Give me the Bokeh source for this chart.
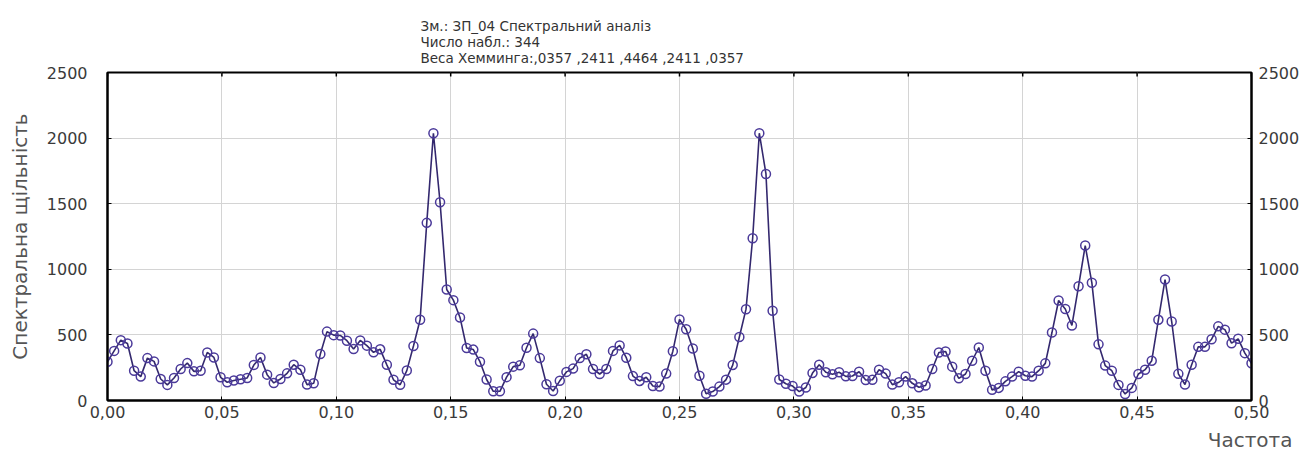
import math
from bokeh.plotting import figure
from bokeh.models import LinearAxis, FixedTicker, Title, Range1d, ColumnDataSource
from bokeh.embed import file_html
from bokeh.resources import INLINE

# ---- data -------------------------------------------------------------
n_obs = 344
spectral_density = [
    295, 378, 460, 434, 227, 182, 323, 298, 164, 119,
    172, 240, 285, 222, 227, 366, 328, 177, 139, 152,
    162, 172, 270, 328, 197, 134, 164, 207, 273, 235,
    121, 131, 354, 525, 498, 496, 456, 392, 458, 418,
    367, 390, 272, 158, 120, 228, 415, 615, 1354, 2037,
    1511, 846, 765, 633, 400, 388, 296, 160, 70, 70,
    178, 258, 268, 402, 510, 323, 124, 72, 150, 218,
    243, 323, 352, 240, 202, 240, 378, 420, 326, 186,
    149, 177, 110, 106, 205, 376, 618, 543, 396, 189,
    52, 68, 106, 159, 270, 484, 696, 1237, 2037, 1727,
    684, 160, 128, 110, 68, 99, 209, 272, 215, 200,
    215, 184, 187, 219, 156, 158, 234, 205, 121, 139,
    182, 131, 101, 114, 240, 366, 374, 258, 169, 202,
    303, 404, 227, 81, 96, 146, 182, 220, 189, 182,
    227, 283, 518, 762, 697, 572, 871, 1181, 897, 428,
    266, 227, 119, 50, 96, 202, 235, 303, 615, 922,
    602, 203, 122, 273, 409, 409, 467, 565, 540, 437,
    470, 361, 284,
]
frequency = [k / n_obs for k in range(len(spectral_density))]

x_ticks = [0.0, 0.05, 0.1, 0.15, 0.2, 0.25, 0.3, 0.35, 0.4, 0.45, 0.5]
x_tick_labels = ["0,00", "0,05", "0,10", "0,15", "0,20", "0,25",
                 "0,30", "0,35", "0,40", "0,45", "0,50"]
y_ticks = [0, 500, 1000, 1500, 2000, 2500]

title_lines = [
    "Зм.: ЗП_04 Спектральний аналіз",
    "Число набл.: %d" % n_obs,
    "Веса Хемминга:,0357 ,2411 ,4464 ,2411 ,0357",
]
y_label = "Спектральна щільність"
x_label = "Частота"

# ---- figure -----------------------------------------------------------
FONT = "DejaVu Sans"
src = ColumnDataSource(dict(x=frequency, y=spectral_density))
x_min, x_max = 0, 0.5
y_min, y_max = 0, 2500

p = figure(width=1305, height=458,
           x_range=Range1d(x_min, x_max), y_range=Range1d(y_min, y_max),
           output_backend="svg", toolbar_location=None,
           min_border_left=107, min_border_right=54,
           min_border_top=72, min_border_bottom=58,
           x_axis_location=None, y_axis_location=None)

p.background_fill_color = "white"
p.border_fill_color = "white"
p.outline_line_color = "black"
p.outline_line_width = 2

# grid
p.xgrid.ticker = FixedTicker(ticks=x_ticks)
p.ygrid.ticker = FixedTicker(ticks=y_ticks)
p.grid.grid_line_color = "#d4d4d4"
p.grid.grid_line_width = 1


def style_axis(ax, standoff):
    ax.axis_line_color = "black"
    ax.axis_line_width = 2
    ax.major_tick_in = 4
    ax.major_tick_out = 0
    ax.major_tick_line_color = "black"
    ax.minor_tick_line_color = None
    ax.major_label_text_font = FONT
    ax.major_label_text_font_size = "16px"
    ax.major_label_text_color = "#3a3a3a"
    ax.major_label_standoff = standoff


bottom = LinearAxis(ticker=FixedTicker(ticks=x_ticks),
                    major_label_overrides=dict(zip(x_ticks, x_tick_labels)))
style_axis(bottom, 5)
p.add_layout(bottom, "below")

left = LinearAxis(ticker=FixedTicker(ticks=y_ticks), axis_label=y_label)
style_axis(left, 20)
left.axis_label_text_font = FONT
left.axis_label_text_font_size = "20px"
left.axis_label_text_font_style = "normal"
left.axis_label_text_color = "#555555"
left.axis_label_standoff = 12
p.add_layout(left, "left")

right = LinearAxis(ticker=FixedTicker(ticks=y_ticks))
style_axis(right, 7)
p.add_layout(right, "right")

# top-edge inward ticks
p.scatter(x=x_ticks, y=[y_max] * len(x_ticks), marker="dash", angle=math.pi / 2,
          size=8, line_color="black", line_width=1.5)

# titles
p.add_layout(Title(text="\n".join(title_lines), align="left", offset=313,
                   text_font=FONT, text_font_size="13.5px",
                   text_font_style="normal", text_color="#333333",
                   text_line_height=1.0, standoff=14), "above")
p.add_layout(Title(text=x_label, align="right", offset=-41,
                   text_font=FONT, text_font_size="20px",
                   text_font_style="normal", text_color="#555555",
                   standoff=10), "below")

# data
p.line("x", "y", source=src, line_color="#33286e", line_width=1.6)
p.scatter("x", "y", source=src, marker="circle", size=9,
          line_color="#4b3a9a", line_width=1.5, fill_alpha=0)

open("out.html", "w").write(file_html(p, INLINE))
